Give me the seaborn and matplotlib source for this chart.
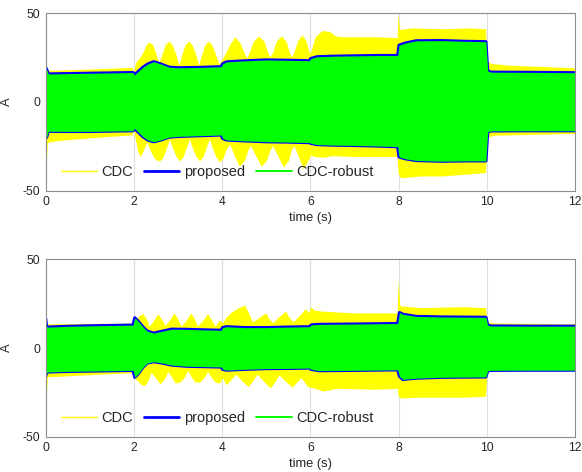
import numpy as np
import pandas as pd
import seaborn as sns
import matplotlib
matplotlib.use("Agg")
import matplotlib.pyplot as plt
from matplotlib.lines import Line2D

# ---------------- data (envelopes) ----------------
series_names = ["CDC", "proposed", "CDC-robust"]
x_ticks = [0, 2, 4, 6, 8, 10, 12]
y_ticks = [-50, 0, 50]

# top panel: proposed / CDC-robust envelope
t_prop_1 = [0.00, 0.02, 0.06, 0.50, 1.00, 1.50, 1.98, 2.01, 2.08, 2.20, 2.32, 2.45, 2.60, 2.80, 3.00,
            3.50, 3.98, 4.01, 4.10, 4.50, 5.00, 5.50, 5.98, 6.01, 6.15, 6.50, 7.00, 7.50, 7.98, 8.01,
            8.15, 8.40, 9.00, 9.50, 9.98, 10.02, 10.10, 11.00, 12.00]
prop_up_1 = [19.5, 18.5, 15.8, 16.0, 16.2, 16.4, 16.6, 15.2, 16.8, 19.5, 21.5, 22.7, 21.5, 19.6, 19.3,
             19.5, 19.9, 21.5, 22.6, 23.2, 23.7, 23.5, 23.3, 24.5, 25.5, 25.8, 26.0, 26.2, 26.2, 32.0,
             33.2, 34.5, 34.6, 34.2, 34.0, 17.5, 16.8, 16.7, 16.5]
prop_lo_1 = [-19.0, -20.0, -16.5, -16.6, -16.6, -16.4, -16.2, -14.8, -16.5, -19.5, -21.5, -22.4, -21.5,
             -19.8, -19.4, -19.0, -18.6, -20.5, -21.4, -21.9, -22.4, -22.6, -22.9, -23.3, -24.0, -24.3,
             -24.5, -24.8, -25.2, -31.0, -32.0, -33.0, -33.4, -33.2, -33.2, -16.8, -16.3, -16.2, -16.2]

# top panel: CDC envelope
t_cdc_up_1 = [0.00, 0.03, 0.10, 1.00, 1.97, 2.00, 2.05, 2.15, 2.22, 2.30, 2.37, 2.44, 2.52, 2.58, 2.64,
              2.72, 2.80, 2.88, 2.97, 3.03, 3.09, 3.17, 3.25, 3.33, 3.42, 3.48, 3.54, 3.62, 3.70, 3.78,
              3.87, 3.94, 4.00, 4.08, 4.18, 4.30, 4.42, 4.52, 4.57, 4.63, 4.72, 4.84, 4.96, 5.05, 5.10,
              5.16, 5.24, 5.35, 5.46, 5.54, 5.58, 5.64, 5.72, 5.82, 5.92, 5.99, 6.03, 6.12, 6.28, 6.45,
              6.58, 6.72, 7.50, 7.98, 8.00, 8.03, 8.30, 9.00, 9.60, 9.98, 10.02, 10.10, 10.50, 12.00]
cdc_up_1 = [19.0, 18.0, 17.6, 18.3, 19.2, 16.5, 22.0, 25.0, 28.0, 32.5, 33.5, 32.0, 26.0, 22.0, 26.0,
            32.0, 34.0, 32.0, 26.0, 20.5, 26.0, 32.0, 34.0, 32.0, 26.0, 20.5, 26.0, 32.0, 34.0, 32.0,
            26.0, 21.0, 23.5, 27.0, 32.0, 36.5, 33.0, 27.0, 24.5, 28.0, 34.0, 37.0, 34.0, 27.5, 25.0,
            28.0, 34.0, 37.0, 34.0, 27.5, 25.0, 28.0, 34.0, 37.5, 34.0, 27.0, 29.0, 36.5, 40.0, 39.5,
            37.0, 36.5, 36.5, 36.0, 50.0, 40.5, 41.5, 41.0, 41.5, 41.0, 23.0, 21.5, 20.5, 19.0]
t_cdc_lo_1 = [0.00, 0.02, 0.05, 0.30, 1.00, 1.97, 2.00, 2.05, 2.10, 2.15, 2.22, 2.30, 2.37, 2.45, 2.52,
              2.60, 2.68, 2.75, 2.82, 2.90, 2.97, 3.05, 3.13, 3.20, 3.27, 3.35, 3.42, 3.50, 3.58, 3.65,
              3.72, 3.80, 3.87, 3.95, 4.03, 4.10, 4.18, 4.28, 4.40, 4.52, 4.60, 4.66, 4.76, 4.90, 5.02,
              5.10, 5.16, 5.26, 5.40, 5.52, 5.58, 5.64, 5.74, 5.85, 5.96, 6.02, 6.10, 6.30, 6.50, 7.00,
              7.98, 8.00, 8.05, 8.50, 9.00, 9.50, 9.98, 10.02, 10.20, 12.00]
cdc_lo_1 = [-19.0, -38.0, -23.0, -22.0, -20.5, -18.8, -15.5, -22.0, -28.0, -31.0, -28.0, -23.0, -27.0,
            -31.0, -33.0, -33.5, -31.0, -26.0, -21.5, -27.0, -31.0, -33.5, -31.0, -26.0, -21.0, -27.0,
            -31.0, -33.5, -31.0, -26.0, -21.0, -27.0, -31.0, -34.0, -32.0, -27.0, -24.0, -30.0, -36.5,
            -33.0, -27.0, -25.0, -30.0, -36.5, -33.0, -27.0, -25.0, -30.0, -37.0, -33.0, -27.0, -25.0,
            -31.0, -38.0, -33.0, -30.0, -31.0, -31.5, -30.5, -31.0, -31.0, -40.0, -43.0, -42.0, -42.0,
            -41.0, -40.0, -20.0, -19.0, -18.0]

# bottom panel: proposed / CDC-robust envelope
t_prop_2 = [0.00, 0.02, 0.06, 0.50, 1.00, 1.50, 1.98, 2.02, 2.10, 2.20, 2.30, 2.45, 2.65, 2.85, 3.20,
            3.60, 3.98, 4.01, 4.10, 4.50, 5.00, 5.50, 5.98, 6.02, 6.20, 7.00, 7.98, 8.02, 8.10, 8.40,
            9.00, 9.98, 10.02, 10.10, 11.00, 12.00]
prop_up_2 = [16.5, 12.0, 11.8, 12.2, 12.5, 12.7, 12.9, 17.0, 15.0, 12.0, 9.5, 8.4, 9.5, 10.6, 10.5,
             10.2, 10.0, 11.5, 12.0, 11.5, 11.5, 11.8, 12.0, 13.0, 13.3, 13.5, 13.8, 20.0, 19.0, 17.8,
             17.5, 17.3, 12.8, 12.4, 12.3, 12.3]
prop_lo_2 = [-16.0, -14.0, -13.5, -13.2, -13.0, -12.8, -12.6, -16.5, -14.5, -11.0, -8.5, -7.7, -8.5,
             -9.6, -10.3, -10.5, -10.7, -12.0, -12.5, -12.0, -11.6, -11.5, -11.3, -12.0, -12.8, -12.6,
             -12.3, -16.0, -17.7, -17.0, -16.5, -16.3, -12.8, -12.6, -12.5, -12.5]

# bottom panel: CDC envelope
t_cdc_up_2 = [0.00, 0.05, 1.00, 1.98, 2.02, 2.08, 2.15, 2.22, 2.30, 2.36, 2.45, 2.55, 2.64, 2.72, 2.82,
              2.92, 3.00, 3.08, 3.20, 3.30, 3.38, 3.45, 3.58, 3.68, 3.76, 3.85, 3.95, 4.02, 4.10, 4.22,
              4.35, 4.52, 4.62, 4.70, 4.85, 5.00, 5.08, 5.16, 5.30, 5.45, 5.53, 5.62, 5.76, 5.90, 5.97,
              6.02, 6.10, 6.30, 7.00, 7.98, 8.00, 8.04, 8.50, 9.50, 9.98, 10.02, 10.20, 12.00]
cdc_up_2 = [14.0, 13.4, 13.6, 13.8, 17.5, 16.5, 18.5, 19.0, 16.0, 12.0, 15.0, 19.0, 16.0, 12.5, 15.5,
            19.5, 16.5, 12.0, 15.5, 19.5, 16.5, 12.0, 15.5, 19.0, 16.0, 12.0, 15.5, 14.0, 17.0, 20.0,
            22.0, 24.0, 19.0, 14.5, 17.0, 19.5, 16.0, 14.0, 17.5, 20.5, 17.0, 14.5, 18.0, 22.0, 19.5,
            23.0, 21.0, 20.5, 19.5, 19.5, 38.0, 23.5, 22.5, 23.0, 22.5, 14.5, 13.8, 13.4]
t_cdc_lo_2 = [0.00, 0.02, 0.05, 0.50, 1.00, 1.98, 2.02, 2.10, 2.18, 2.25, 2.32, 2.40, 2.50, 2.60, 2.70,
              2.78, 2.86, 2.95, 3.05, 3.15, 3.23, 3.31, 3.40, 3.50, 3.60, 3.68, 3.76, 3.85, 3.95, 4.02,
              4.10, 4.20, 4.32, 4.45, 4.60, 4.70, 4.80, 4.95, 5.10, 5.20, 5.30, 5.45, 5.60, 5.70, 5.80,
              5.95, 6.05, 6.30, 6.60, 7.50, 7.98, 8.00, 8.05, 8.50, 9.50, 9.98, 10.02, 12.00]
cdc_lo_2 = [-14.0, -31.0, -16.5, -16.0, -15.3, -14.2, -17.0, -19.0, -21.0, -21.5, -19.0, -14.0, -17.0,
            -20.5, -18.0, -13.5, -16.5, -20.0, -19.5, -17.0, -13.0, -16.5, -19.5, -19.5, -17.0, -13.5,
            -16.5, -19.5, -20.0, -17.0, -21.0, -18.5, -15.0, -18.5, -22.0, -19.0, -15.0, -19.0, -22.7,
            -19.5, -15.5, -19.0, -22.5, -19.5, -17.0, -22.0, -22.5, -24.5, -23.0, -23.5, -23.0, -27.0,
            -28.5, -28.0, -28.0, -27.5, -12.8, -12.6]

# ---------------- styling ----------------
sns.set_theme(style="white")
plt.rcParams["font.family"] = ["Liberation Sans", "DejaVu Sans"]

C_CDC = "#FFFF00"
C_PROP = "#0000FF"
C_ROB = "#00FF00"
EDGE = "#8c8c8c"

fig = plt.figure(figsize=(5.82, 4.72), dpi=100)
ax1 = fig.add_axes([0.0785, 0.596, 0.9095, 0.3758])
ax2 = fig.add_axes([0.0785, 0.0748, 0.9095, 0.3758])

panels = [
    (ax1, t_prop_1, prop_up_1, prop_lo_1, t_cdc_up_1, cdc_up_1, t_cdc_lo_1, cdc_lo_1),
    (ax2, t_prop_2, prop_up_2, prop_lo_2, t_cdc_up_2, cdc_up_2, t_cdc_lo_2, cdc_lo_2),
]

for ax, tp, pu, pl, tcu, cu, tcl, cl in panels:
    # CDC (yellow) envelope as a filled polygon
    poly_x = list(tcu) + list(tcl)[::-1]
    poly_y = list(cu) + list(cl)[::-1]
    ax.fill(poly_x, poly_y, color=C_CDC, lw=0, zorder=2)

    # proposed (blue) envelope edges
    df = pd.DataFrame({"t": tp, "up": pu, "lo": pl})
    sns.lineplot(data=df, x="t", y="up", color=C_PROP, lw=2.3, ax=ax, zorder=3,
                 estimator=None, sort=False)
    sns.lineplot(data=df, x="t", y="lo", color=C_PROP, lw=2.3, ax=ax, zorder=3,
                 estimator=None, sort=False)

    # CDC-robust (green) band
    ax.fill_between(df["t"], df["lo"], df["up"], color=C_ROB, lw=0, zorder=4)

    ax.set_xlim(0, 12)
    ax.set_ylim(-50, 50)
    ax.set_xticks(x_ticks)
    ax.set_yticks(y_ticks)
    ax.set_xticklabels([str(v) for v in x_ticks])
    ax.set_yticklabels([str(v) for v in y_ticks])
    ax.tick_params(axis="both", direction="in", length=3, width=0.6, color=EDGE,
                   labelsize=8.7, pad=4, labelcolor="#262626",
                   bottom=True, left=True, top=False, right=False)
    ax.grid(False)
    for xv in x_ticks[1:-1]:
        ax.axvline(xv, color="#dedede", lw=0.8, zorder=1)
    for s in ax.spines.values():
        s.set_color(EDGE)
        s.set_linewidth(0.8)
        s.set_zorder(6)
    ax.set_xlabel("time (s)", fontsize=9.3, labelpad=3, color="#262626")
    ax.set_ylabel("A", fontsize=9.3, labelpad=7, color="#262626")

    handles = [
        Line2D([], [], color=C_CDC, lw=1.0),
        Line2D([], [], color=C_PROP, lw=2.0),
        Line2D([], [], color=C_ROB, lw=1.4),
    ]
    leg = ax.legend(handles, series_names, loc="center left", bbox_to_anchor=(0.029, 0.105),
                    ncol=3, frameon=False, fontsize=10.5, handlelength=2.45,
                    handletextpad=0.3, columnspacing=0.75, borderpad=0, borderaxespad=0)
    leg.set_zorder(7)

fig.savefig("out.png", dpi=100)
